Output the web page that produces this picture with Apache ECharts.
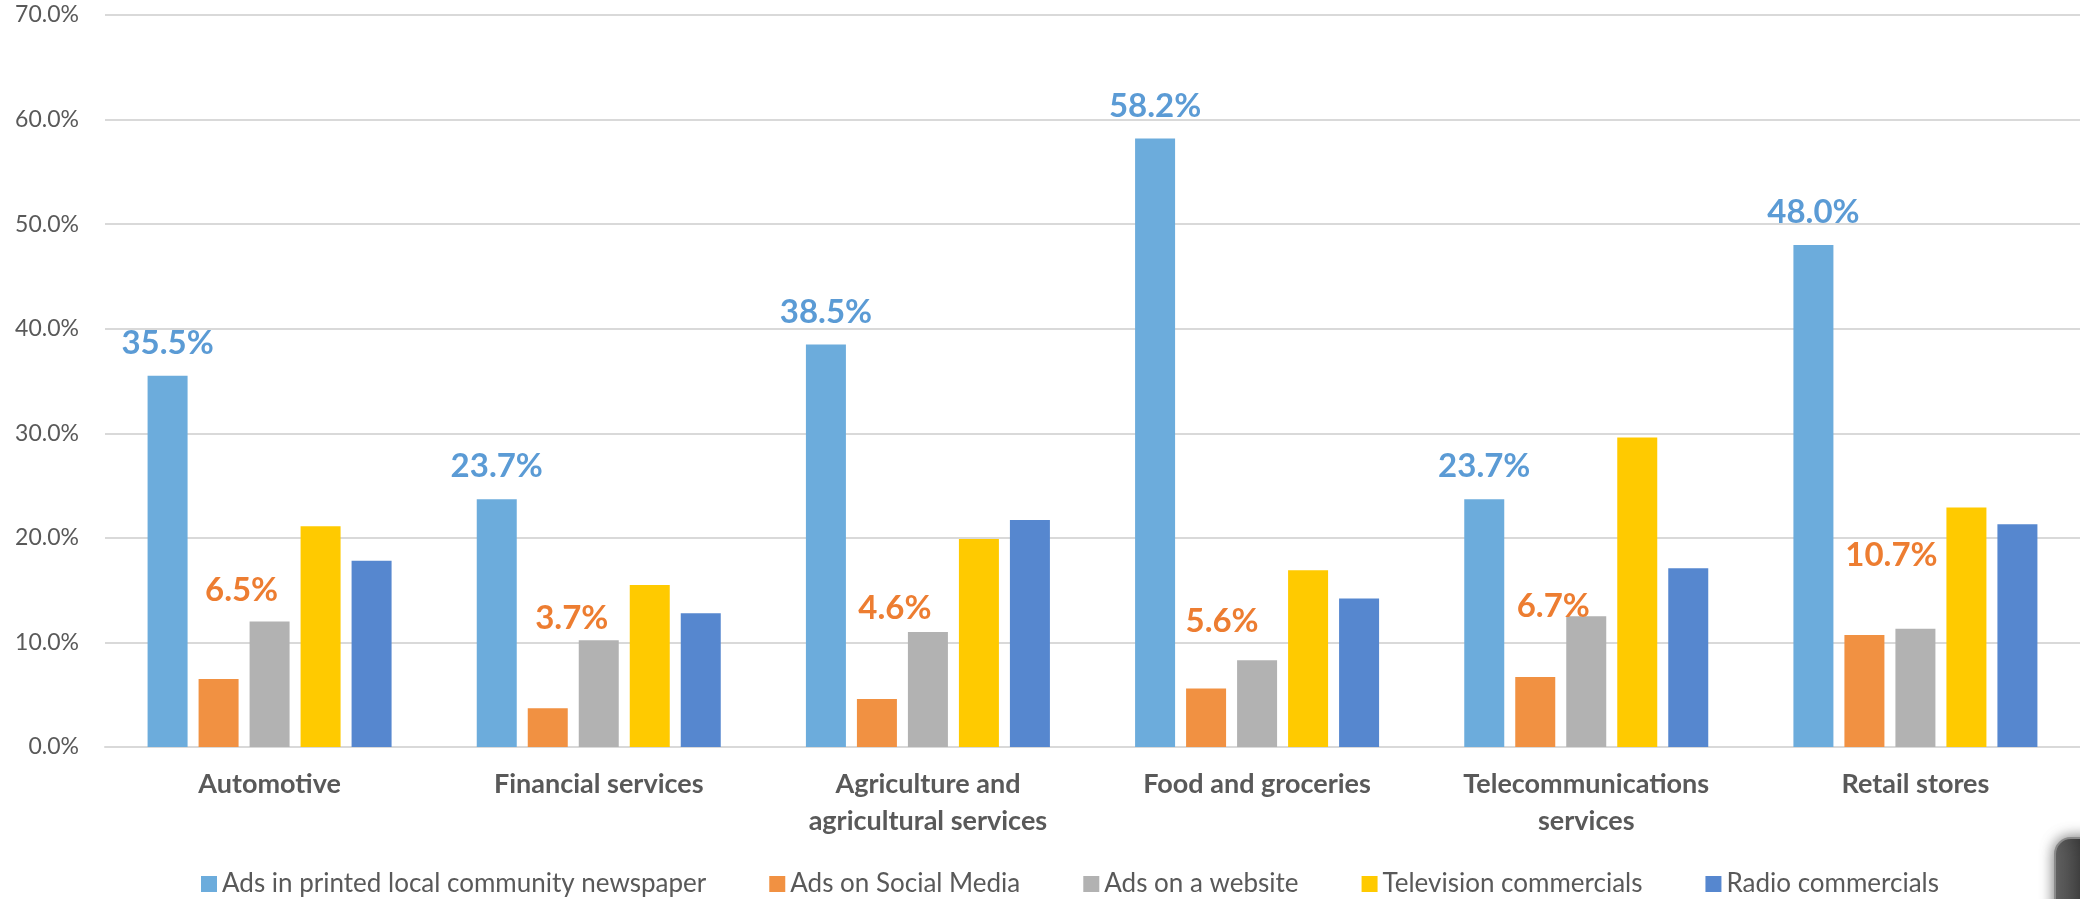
<!DOCTYPE html>
<html>
<head>
<meta charset="utf-8">
<title>Advertising channels by business category</title>
<script src="https://cdn.jsdelivr.net/npm/echarts@6/dist/echarts.min.js"></script>
<style>
  html, body { margin: 0; padding: 0; background: #ffffff; }
  #chart { width: 2080px; height: 899px; }
</style>
</head>
<body>
<div id="chart"></div>
<script>
// Business categories along the x axis
const categories = [
  'Automotive',
  'Financial services',
  'Agriculture and\nagricultural services',
  'Food and groceries',
  'Telecommunications\nservices',
  'Retail stores'
];

// Share of respondents (%) per advertising channel
const newspaper   = [35.5, 23.7, 38.5, 58.2, 23.7, 48.0];
const socialMedia = [6.5, 3.7, 4.6, 5.6, 6.7, 10.7];
const website     = [12.0, 10.2, 11.0, 8.3, 12.5, 11.3];
const television  = [21.1, 15.5, 19.9, 16.9, 29.6, 22.9];
const radio       = [17.8, 12.8, 21.7, 14.2, 17.1, 21.3];

const seriesNames = [
  'Ads in printed local community newspaper',
  'Ads on Social Media',
  'Ads on a website',
  'Television commercials',
  'Radio commercials'
];

// Value axis ticks
const yMin = 0, yMax = 70, yStep = 10;

// ---- styling ----
const TEXT = '#595959';
const GRID = '#D9D9D9';
const FONT = 'Lato, "Open Sans", sans-serif';
const barColors = ['#6CACDC', '#F19142', '#B2B2B2', '#FFCA00', '#5687CF'];
const labelColors = { newspaper: '#5B9BD5', social: '#ED7D31' };

// Social media labels sit further up and a little to the right of their bars
const socialLabelShift = [[23, -56], [24, -57], [18, -58], [16, -35], [18, -38], [27, -47]];

const pct = v => v.toFixed(1) + '%';

const valueLabel = (color) => ({
  show: true,
  position: 'top',
  distance: 16,
  color: color,
  fontFamily: FONT,
  fontWeight: 'bold',
  fontSize: 33,
  formatter: p => pct(p.value)
});

const barBase = {
  type: 'bar',
  barWidth: 40,
  barGap: '27.5%'
};

const series = [
  Object.assign({}, barBase, {
    name: seriesNames[0],
    data: newspaper,
    itemStyle: { color: barColors[0] },
    label: valueLabel(labelColors.newspaper)
  }),
  Object.assign({}, barBase, {
    name: seriesNames[1],
    data: socialMedia.map((v, i) => ({
      value: v,
      label: { offset: socialLabelShift[i] }
    })),
    itemStyle: { color: barColors[1] },
    label: valueLabel(labelColors.social)
  }),
  Object.assign({}, barBase, {
    name: seriesNames[2],
    data: website,
    itemStyle: { color: barColors[2] }
  }),
  Object.assign({}, barBase, {
    name: seriesNames[3],
    data: television,
    itemStyle: { color: barColors[3] }
  }),
  Object.assign({}, barBase, {
    name: seriesNames[4],
    data: radio,
    itemStyle: { color: barColors[4] }
  })
];

const chart = echarts.init(document.getElementById('chart'), null, { renderer: 'canvas' });

chart.setOption({
  backgroundColor: '#ffffff',
  animation: false,
  color: barColors,
  grid: { left: 105, top: 15, width: 1991, height: 732, containLabel: false },
  legend: {
    data: seriesNames,
    left: 196,
    top: 866,
    icon: 'rect',
    itemWidth: 16,
    itemHeight: 16,
    itemGap: 63,
    textStyle: { color: TEXT, fontFamily: FONT, fontSize: 26 }
  },
  xAxis: {
    type: 'category',
    data: categories,
    axisLine: { show: true, lineStyle: { color: GRID, width: 2 } },
    axisTick: { show: false },
    axisLabel: {
      color: TEXT,
      fontFamily: FONT,
      fontWeight: 'bold',
      fontSize: 27,
      lineHeight: 37,
      margin: 19,
      interval: 0
    }
  },
  yAxis: {
    type: 'value',
    min: yMin,
    max: yMax,
    interval: yStep,
    axisLine: { show: false },
    axisTick: { show: false },
    splitLine: { lineStyle: { color: GRID, width: 2 } },
    axisLabel: {
      color: TEXT,
      fontFamily: FONT,
      fontSize: 23,
      margin: 26,
      formatter: v => pct(v)
    }
  },
  graphic: [{
    // partially visible rounded badge in the lower right corner
    type: 'rect',
    shape: { x: 2055, y: 838, width: 70, height: 110, r: 16 },
    style: {
      fill: new echarts.graphic.LinearGradient(0, 0, 1, 0, [
        { offset: 0, color: '#6a6a6a' },
        { offset: 0.4, color: '#3a3a3a' },
        { offset: 1, color: '#2a2a2a' }
      ]),
      stroke: '#8a8a8a',
      lineWidth: 2,
      shadowBlur: 14,
      shadowColor: 'rgba(0,0,0,0.55)'
    },
    z: 100
  }],
  series: series
});
</script>
</body>
</html>
